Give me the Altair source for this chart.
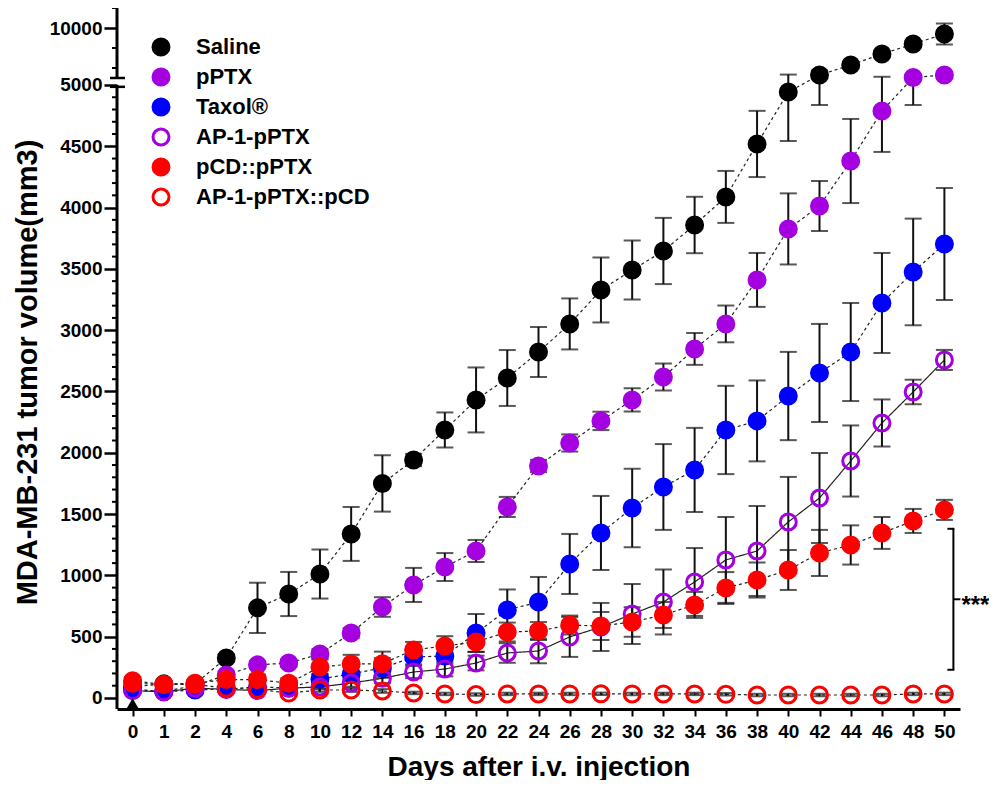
import altair as alt
import pandas as pd

# ---------------- data ----------------
days = [0, 1, 2, 4, 6, 8, 10, 12, 14, 16, 18, 20, 22, 24, 26, 28, 30, 32, 34, 36, 38, 40, 42, 44, 46, 48, 50]
day_labels = [str(d) for d in days]

series_names = ["Saline", "pPTX", "Taxol®", "AP-1-pPTX", "pCD::pPTX", "AP-1-pPTX::pCD"]
line_styles = ["dashed", "dashed", "dashed", "solid", "dashed", "dashed"]

saline_mean = [90, 115, 115, 326, 735, 848, 1011, 1338, 1750, 1941, 2186, 2431, 2610, 2822, 3051, 3328, 3491, 3646, 3858, 4087, 4519, 4943, 5300, 6300, 7400, 8400, 9400]
saline_err = [30, 20, 20, 30, 205, 180, 200, 220, 230, 50, 143, 265, 228, 204, 208, 265, 240, 270, 230, 212, 270, 400, 463, 300, 300, 300, 1050]

pptx_mean = [60, 55, 100, 188, 270, 285, 359, 530, 742, 922, 1068, 1199, 1558, 1892, 2080, 2260, 2431, 2618, 2847, 3051, 3410, 3826, 4013, 4380, 4788, 5050, 5300]
pptx_err = [20, 20, 20, 30, 30, 30, 40, 40, 80, 139, 114, 90, 82, 50, 70, 75, 95, 110, 130, 150, 220, 290, 204, 343, 334, 213, 100]

taxol_mean = [75, 50, 65, 73, 90, 82, 155, 196, 245, 334, 342, 530, 718, 783, 1093, 1346, 1550, 1721, 1860, 2186, 2260, 2463, 2651, 2822, 3222, 3475, 3703]
taxol_err = [20, 20, 20, 20, 20, 20, 40, 60, 80, 60, 60, 155, 167, 204, 245, 302, 320, 350, 343, 360, 330, 360, 400, 400, 408, 435, 457]

ap1_mean = [60, 50, 80, 70, 60, 80, 90, 122, 160, 212, 236, 285, 367, 383, 498, 579, 685, 783, 946, 1126, 1199, 1436, 1631, 1933, 2243, 2496, 2757]
ap1_err = [20, 20, 20, 20, 20, 20, 20, 30, 40, 50, 60, 60, 80, 100, 163, 196, 245, 265, 277, 350, 367, 367, 367, 290, 192, 100, 82]

pcd_mean = [140, 110, 120, 150, 150, 120, 253, 277, 280, 392, 424, 457, 538, 546, 595, 587, 620, 677, 759, 897, 962, 1044, 1183, 1248, 1346, 1444, 1534]
pcd_err = [30, 20, 20, 30, 40, 40, 60, 75, 98, 65, 80, 80, 77, 73, 77, 114, 120, 106, 106, 130, 143, 163, 188, 160, 130, 98, 82]

ap1pcd_mean = [120, 110, 110, 80, 70, 40, 65, 65, 57, 41, 33, 28, 33, 33, 33, 34, 33, 33, 33, 30, 24, 24, 24, 24, 24, 33, 33]
ap1pcd_err = [20, 15, 15, 15, 15, 15, 15, 15, 15, 10, 10, 10, 10, 10, 10, 10, 10, 10, 10, 10, 10, 10, 10, 10, 10, 10, 10]

stroke_colors = ["#000000", "#a400e0", "#0000ff", "#a400e0", "#ff0000", "#ff0000"]
fill_colors = ["#000000", "#a400e0", "#0000ff", "transparent", "#ff0000", "transparent"]

injection_days = ["0"]
sig_day = "50"
sig_top, sig_bottom = 1380, 230

# ---------------- broken axis mapping ----------------
BREAK = 5000          # top of the lower segment
UP0 = 5057.0          # scale position where the upper segment starts
UPK = 571.0 / 7000.0  # compression of the upper segment
T_MIN, T_MAX = -90.0, 5628.0


def tf_py(v):
    return v if v <= BREAK else UP0 + (v - BREAK) * UPK


def tf_expr(e):
    return f"({e}) <= {BREAK} ? ({e}) : {UP0} + (({e}) - {BREAK}) * {UPK}"


rows = []
for name, style, means, errs in zip(
    series_names, line_styles,
    [saline_mean, pptx_mean, taxol_mean, ap1_mean, pcd_mean, ap1pcd_mean],
    [saline_err, pptx_err, taxol_err, ap1_err, pcd_err, ap1pcd_err],
):
    for d, m, e in zip(day_labels, means, errs):
        rows.append({"series": name, "style": style, "day": d, "mean": m, "lo": m - e, "hi": m + e})
df = pd.DataFrame(rows)

FONT = "Liberation Sans"

major_lower = list(range(0, 5001, 500))
major_vals = major_lower + [tf_py(10000)]
minor_lower = [v for v in range(0, 5001, 100) if v % 500 != 0]
minor_vals = minor_lower + [tf_py(v) for v in (6000, 8000, 12000)]

x_enc = alt.X(
    "day:O",
    scale=alt.Scale(type="point", domain=day_labels, padding=0.5),
    axis=alt.Axis(
        title="Days after i.v. injection",
        labelAngle=0,
        labelFont=FONT, labelFontSize=19, labelFontWeight="bold", labelColor="black",
        labelPadding=6,
        titleFont=FONT, titleFontSize=28, titleFontWeight="bold", titleColor="black",
        titlePadding=12,
        domainColor="black", domainWidth=3,
        tickColor="black", tickSize=7, tickWidth=2,
        grid=False,
    ),
)

y_scale = alt.Scale(domain=[T_MIN, T_MAX], nice=False, zero=False)
y_axis = alt.Axis(
    title="MDA-MB-231 tumor volume(mm3)",
    values=major_vals,
    labelExpr=f"datum.value <= {BREAK} ? datum.value : '10000'",
    labelFont=FONT, labelFontSize=19, labelFontWeight="bold", labelColor="black",
    labelPadding=2, labelOverlap=False,
    titleFont=FONT, titleFontSize=29, titleFontWeight="bold", titleColor="black",
    titlePadding=7, titleY=364,
    domain=False,
    tickColor="black", tickSize=13, tickWidth=2.5,
    grid=False,
)


def Y(field):
    return alt.Y(field, scale=y_scale, axis=y_axis)


base = alt.Chart(df).transform_calculate(
    ty=tf_expr("datum.mean"), tlo=tf_expr("datum.lo"), thi=tf_expr("datum.hi")
)

lines = base.mark_line(strokeWidth=1.2, color="#222222").encode(
    x=x_enc,
    y=Y("ty:Q"),
    detail="series:N",
    strokeDash=alt.StrokeDash(
        "style:N", scale=alt.Scale(domain=["dashed", "solid"], range=[[3, 3], [1, 0]]), legend=None
    ),
)

err_rules = base.mark_rule(color="#111111", strokeWidth=2).encode(
    x=x_enc, y=Y("tlo:Q"), y2="thi:Q"
)
caps_lo = base.mark_tick(color="#111111", thickness=2, size=17, orient="horizontal").encode(
    x=x_enc, y=Y("tlo:Q")
)
caps_hi = base.mark_tick(color="#111111", thickness=2, size=17, orient="horizontal").encode(
    x=x_enc, y=Y("thi:Q")
)

legend_kw = dict(
    title=None, orient="none", legendX=33, legendY=28,
    labelFont=FONT, labelFontSize=22, labelFontWeight="bold", labelColor="black",
    labelLimit=0,
    symbolType="circle", symbolSize=256, symbolStrokeWidth=3, symbolOpacity=1,
    rowPadding=2, labelOffset=24, padding=0,
)

points = base.mark_point(filled=True, size=256, strokeWidth=3, opacity=1).encode(
    x=x_enc,
    y=Y("ty:Q"),
    stroke=alt.Stroke(
        "series:N", scale=alt.Scale(domain=series_names, range=stroke_colors),
        legend=alt.Legend(**legend_kw),
    ),
    fill=alt.Fill(
        "series:N", scale=alt.Scale(domain=series_names, range=fill_colors),
        legend=alt.Legend(**legend_kw),
    ),
)

# minor ticks of the y axis
minor_ticks = alt.Chart(pd.DataFrame({"m": minor_vals})).mark_rule(color="black", strokeWidth=2).encode(
    x=alt.value(-5), x2=alt.value(0), y=Y("m:Q")
)

# y axis line drawn in two segments with a break
axis_df = pd.DataFrame({"y1": [T_MIN, UP0], "y2": [BREAK, T_MAX]})
axis_lines = alt.Chart(axis_df).mark_rule(color="black", strokeWidth=3).encode(
    x=alt.value(0), y=Y("y1:Q"), y2="y2:Q"
)
break_df = pd.DataFrame({"yb": [BREAK - 15, UP0]})
break_marks = alt.Chart(break_df).mark_rule(color="black", strokeWidth=2.5).encode(
    x=alt.value(-7), x2=alt.value(8), y=Y("yb:Q")
)

# injection marker
inj = alt.Chart(pd.DataFrame({"day": injection_days, "v": [0] * len(injection_days)})).mark_point(
    shape="triangle-up", filled=True, color="black", size=170, opacity=1, yOffset=6
).encode(x=x_enc, y=Y("v:Q"))

# significance bracket
sig_df = pd.DataFrame({"day": [sig_day], "top": [sig_top], "bottom": [sig_bottom],
                       "mid": [(sig_top + sig_bottom) / 2], "label": ["***"]})
sig_base = alt.Chart(sig_df)
sig_v = sig_base.mark_rule(color="black", strokeWidth=2, xOffset=9, x2Offset=9).encode(
    x=x_enc, y=Y("top:Q"), y2="bottom:Q"
)
sig_t = sig_base.mark_rule(color="black", strokeWidth=2, xOffset=3, x2Offset=10).encode(
    x=x_enc, x2="day:O", y=Y("top:Q")
)
sig_b = sig_base.mark_rule(color="black", strokeWidth=2, xOffset=3, x2Offset=10).encode(
    x=x_enc, x2="day:O", y=Y("bottom:Q")
)
sig_m = sig_base.mark_rule(color="black", strokeWidth=2, xOffset=9, x2Offset=16).encode(
    x=x_enc, x2="day:O", y=Y("mid:Q")
)
sig_text = sig_base.mark_text(
    align="left", baseline="middle", dx=17, dy=7, font=FONT, fontSize=24, fontWeight="bold", color="black"
).encode(x=x_enc, y=Y("mid:Q"), text="label:N")

chart = alt.layer(
    lines, err_rules, caps_lo, caps_hi, points, minor_ticks, axis_lines, break_marks, inj,
    sig_v, sig_t, sig_b, sig_m, sig_text,
).properties(
    width=843, height=701,
    autosize=alt.AutoSizeParams(type="none"),
    padding={"left": 109, "top": 0, "right": 29, "bottom": 71},
    background="white",
).configure_view(stroke=None)

chart.save("out.html", embed_options={"renderer": "svg", "actions": False})
